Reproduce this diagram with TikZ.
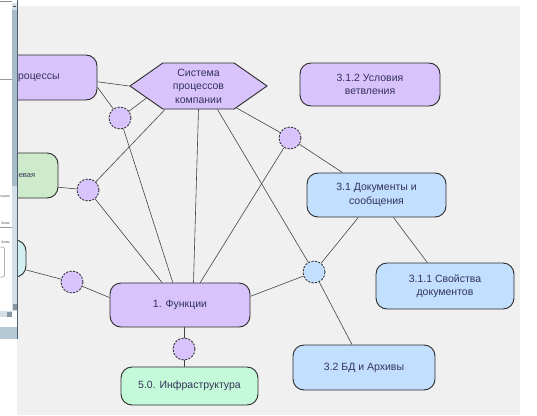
\documentclass[tikz,border=0pt]{standalone}
\usepackage{fontspec}
\setmainfont{Liberation Sans}
\usetikzlibrary{shapes.symbols}

\definecolor{canvas}{HTML}{F0F0F0}
\definecolor{lilac}{HTML}{D9C3FC}
\definecolor{skyb}{HTML}{C2DFFD}
\definecolor{mint}{HTML}{C4FAD9}
\definecolor{sage}{HTML}{CDEBCB}
\definecolor{aqua}{HTML}{D3EFEF}
\definecolor{ink}{HTML}{33335A}
\definecolor{rim}{HTML}{2B2B2B}
\definecolor{wire}{HTML}{454545}
\definecolor{paneband}{HTML}{B5C8D5}
\definecolor{track}{HTML}{D5DFE7}
\definecolor{thumb}{HTML}{A7BCCB}
\definecolor{frame}{HTML}{4E5E6C}

\begin{document}
\begin{tikzpicture}[x=1pt,y=-1pt,
  topic/.style={draw=rim, line width=0.9pt, rounded corners=11pt, inner sep=0pt,
    text=ink, align=center, font=\fontsize{10.5}{13.5}\selectfont},
  hub/.style={circle, draw=rim, dash pattern=on 2.2pt off 1.3pt, line width=0.8pt,
    minimum size=22pt, inner sep=0pt, fill=lilac},
  link/.style={draw=wire, line width=0.6pt},
  tinytext/.style={font=\fontsize{3.5}{4}\selectfont, text=black!70, inner sep=0pt, anchor=west},
]
% page and work area
\fill[white] (0,0) rectangle (537,415);
\fill[canvas] (17,6) rectangle (520,415);
\useasboundingbox (0,0) rectangle (537,415);

% topic nodes
\node[topic, fill=lilac, minimum width=122pt, minimum height=45pt] (proc) at (36,77.5) {процессы};
\node[topic, fill=sage, minimum width=76pt, minimum height=45pt,
      font=\fontsize{7.5}{9}\selectfont] (goal) at (20,175.5) {Целевая};
\node[topic, fill=aqua, minimum width=66pt, minimum height=37pt] (aux) at (-7,258.5) {};
\node[shape=signal, signal to=east and west, signal pointer angle=70,
      draw=rim, line width=0.9pt, fill=lilac, text=ink, align=center, inner sep=0pt,
      minimum width=137pt, minimum height=46pt, font=\fontsize{10.5}{13.5}\selectfont]
      (hex) at (198.5,86) {Система\\процессов\\компании};
\node[topic, fill=lilac, minimum width=140pt, minimum height=43pt] (cond) at (370,84.5) {3.1.2 Условия\\ветвления};
\node[topic, fill=skyb, minimum width=139pt, minimum height=44pt] (docs) at (376.5,195) {3.1 Документы и\\сообщения};
\node[topic, fill=skyb, minimum width=138pt, minimum height=46pt] (props) at (445,286) {3.1.1 Свойства\\документов};
\node[topic, fill=lilac, minimum width=140pt, minimum height=44pt] (func) at (180,305) {1. Функции};
\node[topic, fill=skyb, minimum width=142pt, minimum height=45pt] (db) at (364,367.5) {3.2 БД и Архивы};
\node[topic, fill=mint, minimum width=137pt, minimum height=38pt] (infra) at (189.5,386) {5.0. Инфраструктура};

% junction circles
\node[hub] (c1) at (120,118) {};
\node[hub] (c2) at (290,138) {};
\node[hub] (c3) at (88,190) {};
\node[hub] (c4) at (72,282) {};
\node[hub, fill=skyb] (c5) at (314,272) {};
\node[hub] (c6) at (184,349) {};

% connectors
\begin{scope}[on background layer/.style={}]
\draw[link] (proc.-4) -- (hex.180);
\draw[link] (proc.-9) -- (c1);
\draw[link] (hex.193) -- (c1);
\draw[link] (c1) -- (func);
\draw[link] (hex.215) -- (c3);
\draw[link] (goal.-17) -- (c3);
\draw[link] (c3) -- (func);
\draw[link] (hex.270) -- (func.59);
\draw[link] (hex.309) -- (c5);
\draw[link] (hex.330) -- (c2);
\draw[link] (c2) -- (func.48);
\draw[link] (c2) -- (docs);
\draw[link] (c5) -- (docs);
\draw[link] (c5) -- (db);
\draw[link] (c5) -- (func.7);
\draw[link] (docs) -- (props);
\draw[link] (aux.-19) -- (c4);
\draw[link] (c4) -- (func.174);
\draw[link] (func.south -| c6) -- (c6);
\draw[link] (c6) -- (infra.north -| c6);
\end{scope}

% side panel window on the left
\fill[white] (0,0) rectangle (17.5,327);
\fill[paneband] (0,327) rectangle (17.5,339);
\draw[black!45, line width=0.6pt] (0,1.5) -- (12,1.5);
\fill[track] (12,3) rectangle (17,311);
\fill[thumb] (12,10) rectangle (17,186);
\draw[black!70, line width=0.7pt] (13.3,6) -- (15.7,6);
\fill[thumb!80!black] (12.5,304) rectangle (16.5,310);
\fill[track] (0,311) rectangle (12,317);
\fill[thumb!80!black] (7,311.5) rectangle (11.5,316.5);
\draw[black!40, line width=0.5pt] (0,79) -- (12,79);
\node[tinytext] (t1) at (0,197) {стрем};
\node[tinytext] (t2) at (1,223) {Зоом};
\draw[black!40, line width=0.4pt] (0,227) -- (12,227);
\node[tinytext] (t3) at (1,242) {Зоом};
\draw[black!45, line width=0.5pt, rounded corners=2pt] (-4,247) rectangle (4.5,277);
\draw[frame, line width=0.9pt] (17.5,0) -- (17.5,339);
\end{tikzpicture}
\end{document}
